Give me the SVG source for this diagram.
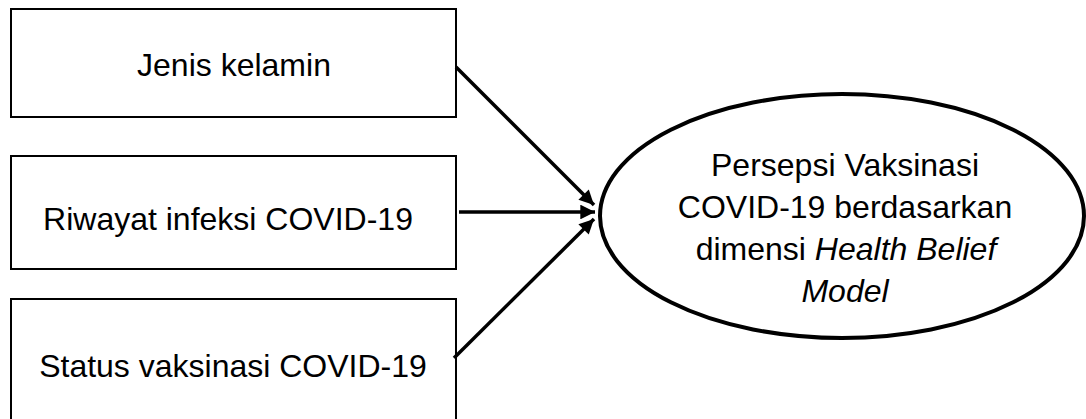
<svg xmlns="http://www.w3.org/2000/svg" width="1086" height="419" viewBox="0 0 1086 419">
  <style>
    .box { fill: #ffffff; stroke: #000000; stroke-width: 2; }
    .oval { fill: #ffffff; stroke: #000000; stroke-width: 4; }
    .label { font-family: "Liberation Sans", Arial, sans-serif; font-size: 32px; fill: #000000; text-anchor: middle; }
    .edge { stroke: #000000; stroke-width: 3.5; fill: none; marker-end: url(#head); }
  </style>
  <defs>
    <marker id="head" viewBox="0 0 10 10" refX="10" refY="5" markerWidth="5" markerHeight="4.2" orient="auto" markerUnits="strokeWidth">
      <path d="M0,0 L10,5 L0,10 z" fill="#000000"/>
    </marker>
  </defs>
  <rect width="1086" height="419" fill="#ffffff"/>

  <g id="node-jenis-kelamin">
    <rect class="box" x="11" y="9" width="445" height="108"/>
    <text class="label" x="234" y="76">Jenis kelamin</text>
  </g>

  <g id="node-riwayat-infeksi">
    <rect class="box" x="11" y="156" width="445" height="113"/>
    <text class="label" x="228" y="230">Riwayat infeksi COVID-19</text>
  </g>

  <g id="node-status-vaksinasi">
    <rect class="box" x="11" y="299" width="445" height="140"/>
    <text class="label" x="233" y="377">Status vaksinasi COVID-19</text>
  </g>

  <g id="node-persepsi">
    <ellipse class="oval" cx="842" cy="216" rx="242" ry="122"/>
    <text class="label" x="845" y="176">Persepsi Vaksinasi</text>
    <text class="label" x="845" y="218">COVID-19 berdasarkan</text>
    <text class="label" x="846" y="260">dimensi <tspan font-style="italic">Health Belief</tspan></text>
    <text class="label" x="845" y="302" font-style="italic">Model</text>
  </g>

  <g id="connectors">
    <line class="edge" x1="456" y1="67" x2="594" y2="205"/>
    <line class="edge" x1="459" y1="212" x2="595" y2="212"/>
    <line class="edge" x1="454" y1="358" x2="594" y2="219"/>
  </g>
</svg>
